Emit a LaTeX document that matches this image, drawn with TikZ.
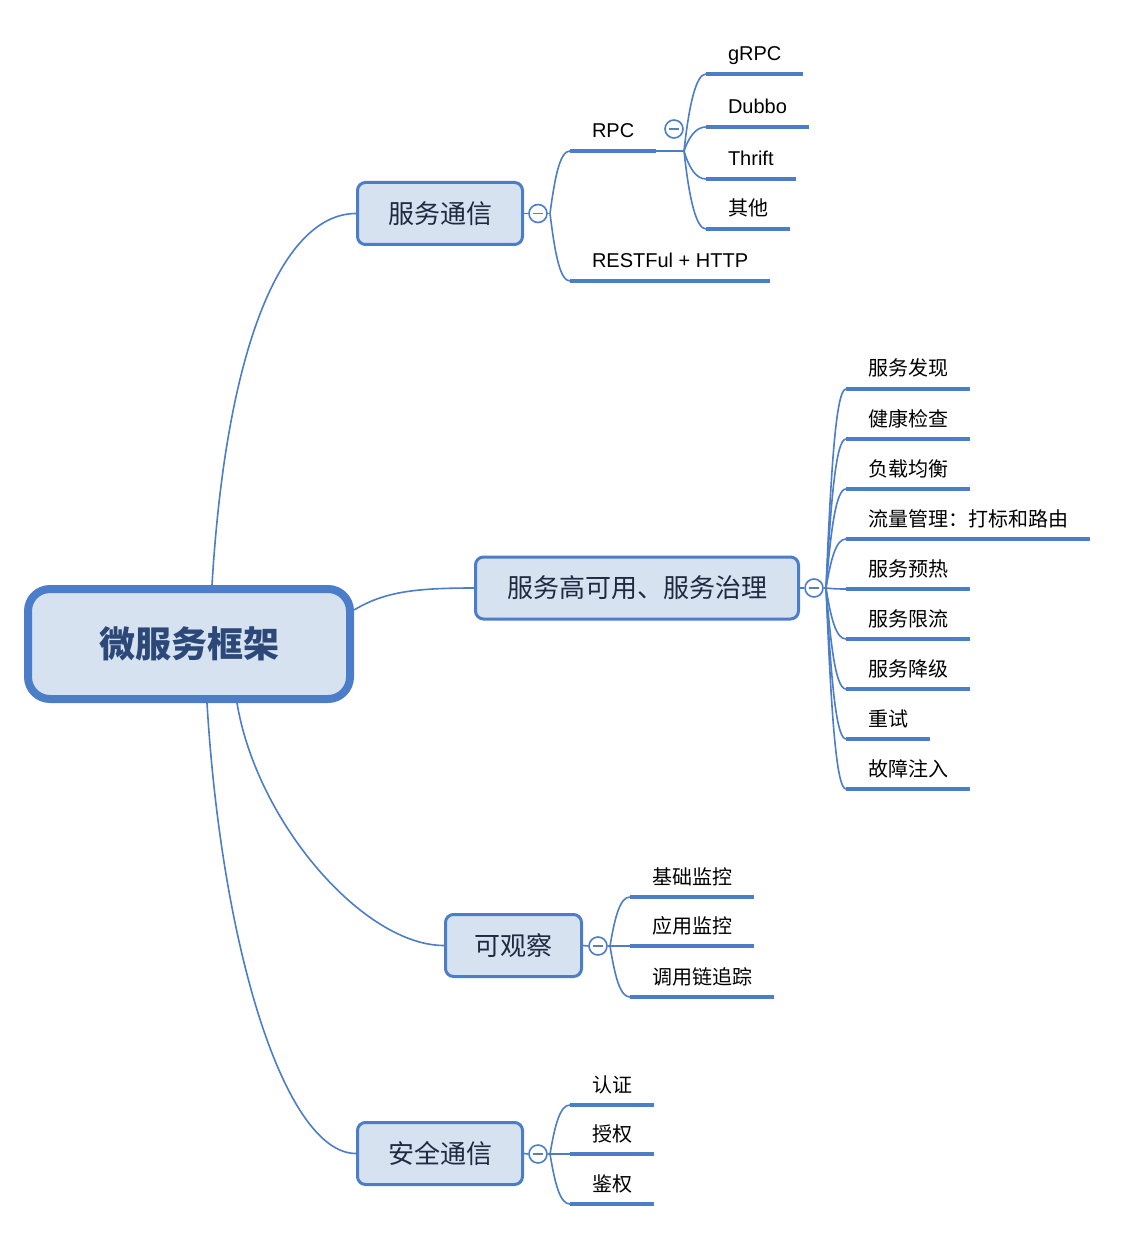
\documentclass[tikz,border=0pt]{standalone}
\usepackage{fontspec}
\setmainfont{Noto Sans CJK SC}
\newfontfamily\latin{Liberation Sans}
\usetikzlibrary{calc}
\definecolor{mblue}{HTML}{4B7DC8}
\definecolor{mfill}{HTML}{D6E2F0}
\definecolor{mroot}{HTML}{2C4878}
\definecolor{mtext}{HTML}{1E2A40}
\tikzset{
  rootbox/.style={draw=mblue, fill=mfill, line width=4pt, rounded corners=11pt,
    minimum width=161pt, minimum height=55pt, text=mroot,
    font=\fontsize{18}{20}\selectfont\bfseries},
  topic/.style={draw=mblue, fill=mfill, line width=1.5pt, rounded corners=4pt,
    minimum height=31pt, text=mtext, font=\fontsize{13}{15}\selectfont},
  leaf/.style={anchor=south west, inner xsep=11pt, inner ysep=3pt, outer sep=0pt,
    text height=8pt, text depth=3.5pt, text=black, font=\fontsize{10}{12}\selectfont},
  uline/.style={mblue, line width=2pt},
  conn/.style={mblue, line width=0.8pt},
  fold/.style={circle, draw=mblue, fill=white, line width=0.8pt, minimum size=9pt,
    inner sep=0pt, path picture={\draw[mblue!60!gray, line width=0.8pt]
      ([xshift=-2.5pt]path picture bounding box.center) --
      ([xshift=2.5pt]path picture bounding box.center);}}
}
\begin{document}
\begin{tikzpicture}[x=0.5pt, y=-0.5pt, line join=round]
\useasboundingbox (0,0) rectangle (1130,1256);
\node[rootbox] (root) at (189,644) {微服务框架};
\node[topic, minimum width=82.5pt] (comm) at (440,213.5) {服务通信};
\node[topic, minimum width=161.5pt] (ha) at (637,588) {服务高可用、服务治理};
\node[topic, minimum width=68pt] (obs) at (513.5,945.5) {可观察};
\node[topic, minimum width=82.5pt] (sec) at (440,1153.5) {安全通信};
\draw[conn] ($(root.north)+(23,0)$) .. controls +(15,-250) and +(-70,0) .. (comm.west);
\draw[conn] ($(root.east)+(0,-34)$) .. controls +(30,-18) and +(-60,0) .. (ha.west);
\draw[conn] ($(root.south)+(48,0)$) .. controls +(20,120) and +(-80,0) .. (obs.west);
\draw[conn] ($(root.south)+(18,0)$) .. controls +(15,250) and +(-70,0) .. (sec.west);
% 服务通信
\node[fold] (c1) at (538,213.5) {};
\coordinate (f1) at (550,213.5);
\draw[conn] (comm.east) -- (c1.west);
\draw[conn] (c1.east) -- (f1);
\node[leaf] (rpc) at (570,151) {\latin RPC};
\node[leaf] (rest) at (570,281) {\latin RESTFul + HTTP};
\foreach \n in {rpc,rest} {
  \draw[uline] (\n.south west) -- (\n.south east);
  \draw[conn] (f1) .. controls ($(f1)!0.6!(f1 |- \n.south west)+(5,0)$)
    and ($(\n.south west)+(-10,0)$) .. (\n.south west);
}
\node[fold] (c2) at (674,129) {};
\coordinate (f2) at (684,151);
\draw[conn] (rpc.south east) -- (f2);
\foreach \lbl/\yy [count=\i] in {{\latin gRPC}/74, {\latin Dubbo}/127,
    {\latin Thrift}/179, 其他/229} {
  \node[leaf] (r\i) at (706,\yy) {\lbl};
  \draw[uline] (r\i.south west) -- (r\i.south east);
  \draw[conn] (f2) .. controls ($(f2)!0.6!(f2 |- r\i.south west)+(5,0)$)
    and ($(r\i.south west)+(-10,0)$) .. (r\i.south west);
}
% 服务高可用
\node[fold] (c3) at (814,588) {};
\coordinate (f3) at (826,588);
\draw[conn] (ha.east) -- (c3.west);
\draw[conn] (c3.east) -- (f3);
\foreach \lbl [count=\i] in {服务发现, 健康检查, 负载均衡, 流量管理：打标和路由,
    服务预热, 服务限流, 服务降级, 重试, 故障注入} {
  \node[leaf] (g\i) at (846,339+50*\i) {\lbl};
  \draw[uline] (g\i.south west) -- (g\i.south east);
  \draw[conn] (f3) .. controls ($(f3)!0.6!(f3 |- g\i.south west)+(5,0)$)
    and ($(g\i.south west)+(-10,0)$) .. (g\i.south west);
}
% 可观察
\node[fold] (c4) at (598,946) {};
\coordinate (f4) at (610,946);
\draw[conn] (obs.east) -- (c4.west);
\draw[conn] (c4.east) -- (f4);
\foreach \lbl/\yy [count=\i] in {基础监控/897, 应用监控/946, 调用链追踪/997} {
  \node[leaf] (o\i) at (630,\yy) {\lbl};
  \draw[uline] (o\i.south west) -- (o\i.south east);
  \draw[conn] (f4) .. controls ($(f4)!0.6!(f4 |- o\i.south west)+(5,0)$)
    and ($(o\i.south west)+(-10,0)$) .. (o\i.south west);
}
% 安全通信
\node[fold] (c5) at (538,1154) {};
\coordinate (f5) at (550,1154);
\draw[conn] (sec.east) -- (c5.west);
\draw[conn] (c5.east) -- (f5);
\foreach \lbl/\yy [count=\i] in {认证/1105, 授权/1154, 鉴权/1204} {
  \node[leaf] (s\i) at (570,\yy) {\lbl};
  \draw[uline] (s\i.south west) -- (s\i.south east);
  \draw[conn] (f5) .. controls ($(f5)!0.6!(f5 |- s\i.south west)+(5,0)$)
    and ($(s\i.south west)+(-10,0)$) .. (s\i.south west);
}
\end{tikzpicture}
\end{document}
